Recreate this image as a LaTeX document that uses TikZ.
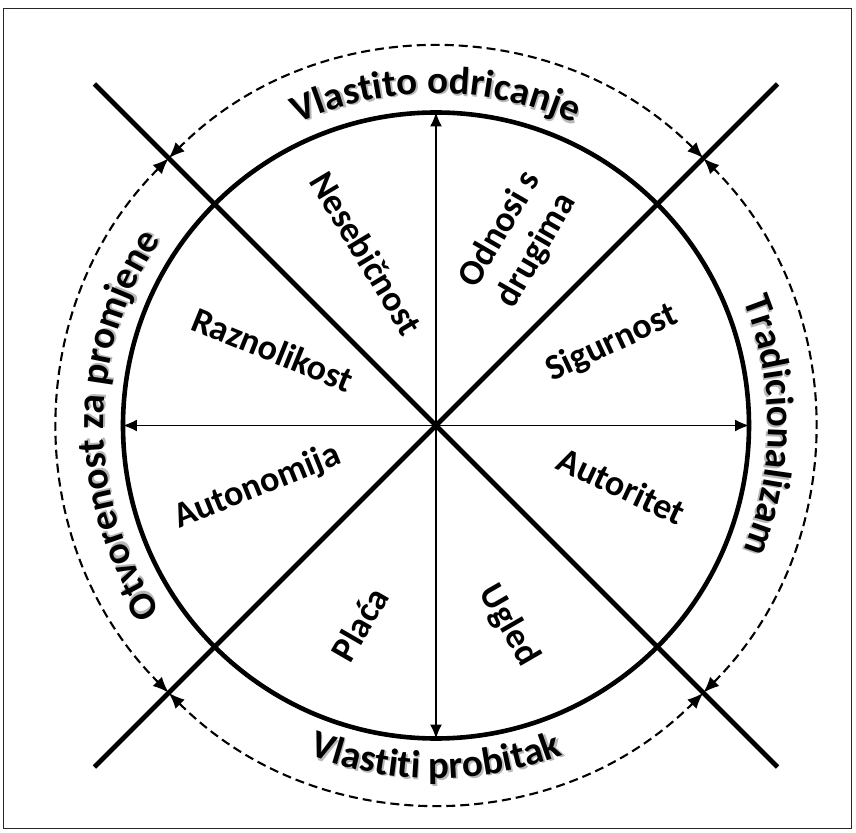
\documentclass[tikz,border=0pt]{standalone}
\usepackage{fontspec}
\setmainfont{Carlito}
\usetikzlibrary{calc}
\usetikzlibrary{arrows.meta}
\usetikzlibrary{decorations.text}
\definecolor{shadow-gray}{gray}{0.72}
\tikzstyle{axis}=[line width=1.4pt,{Latex[length=14pt,width=12pt]}-{Latex[length=14pt,width=12pt]}]
\tikzstyle{diagonal}=[line width=4.6pt]
\tikzstyle{wheel}=[line width=4.6pt]
\tikzstyle{ring}=[line width=2.1pt,dash pattern=on 9pt off 5pt,{Latex[length=16pt,width=13pt]}-{Latex[length=16pt,width=13pt]}]
\tikzstyle{sector}=[font=\fontsize{36}{42}\selectfont\bfseries,align=center,inner sep=0pt]
\newcommand{\ringfont}{\fontsize{39}{41}\selectfont\bfseries}
% Syntax: [shadow shift] {start angle}{end angle}{radius}{text}
\newcommand{\ringlabel}[5][-0.3]{
	\path[decorate,decoration={text along path,text align=center,text color=shadow-gray,raise=-1.6pt,
		text={|\ringfont|#5}}] (#2+#1:#4) arc (#2+#1:#3+#1:#4);
	\path[decorate,decoration={text along path,text align=center,
		text={|\ringfont|#5}}] (#2:#4) arc (#2:#3:#4);
}

\begin{document}
\begin{tikzpicture}[x=1pt,y=1pt]
\pgfmathsetmacro{\R}{313} % solid wheel
\pgfmathsetmacro{\Rd}{378} % dashed ring
\pgfmathsetmacro{\Rl}{483} % diagonal ends
\useasboundingbox (-436,-406.5) rectangle (420,425.5);
% frame
\draw[line width=1pt,black!85] (-432,-402.5) rectangle (415,416.5);
\coordinate (c) at (0,0);
\foreach \a/\n in {0/e,90/n,180/w,270/s} {
	\coordinate (\n) at (\a:\R);
}
\foreach \a/\n in {45/ne,135/nw,225/sw,315/se} {
	\coordinate (\n) at (\a:\Rl);
}
% wheel and axes
\draw[wheel] (c) circle (\R);
\draw[axis] (w) -- (e);
\draw[axis] (s) -- (n);
\draw[diagonal] (nw) -- (se);
\draw[diagonal] (sw) -- (ne);
% dashed ring, one arc per quadrant
\foreach \a in {45,135,225,315} {
	\draw[ring] (\a:\Rd) arc (\a:\a+90:\Rd);
}
% ring labels
\ringlabel{150}{30}{332}{Vlastito odricanje}
\ringlabel{60}{-60}{332}{Tradicionalizam}
\ringlabel[0.3]{210}{330}{353}{Vlastiti probitak}
\ringlabel{240}{120}{332}{Otvorenost za promjene}
% sector labels
\node[sector,rotate=-59] (selfless) at (112:186) {Nesebičnost};
\node[sector,rotate=60] (others) at (66:203) {Odnosi s\\drugima};
\node[sector,rotate=25] (safety) at (25:194) {Sigurnost};
\node[sector,rotate=-22] (variety) at (155:180) {Raznolikost};
\node[sector,rotate=22] (autonomy) at (199:189) {Autonomija};
\node[sector,rotate=-25] (authority) at (-18:195) {Autoritet};
\node[sector,rotate=60] (pay) at (249:213) {Plaća};
\node[sector,rotate=-60] (status) at (290:213) {Ugled};
\end{tikzpicture}
\end{document}
